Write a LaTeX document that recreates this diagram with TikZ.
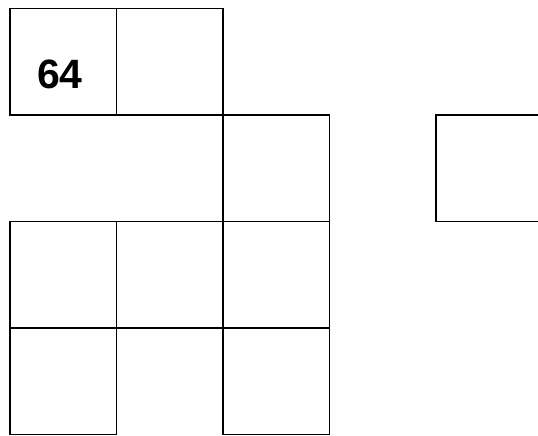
\documentclass[tikz,border=0pt]{standalone}
\usepackage{fontspec}
\setsansfont{Liberation Sans}
\usetikzlibrary{positioning}
\tikzset{
    font=\sffamily,
    % Shapes
    cell/.style={rectangle, draw=black, line width=1.8pt, outer sep=0pt,
                 minimum width=106.5pt, minimum height=106.5pt, inner sep=0pt},
    % Labels
    num/.style={font=\sffamily\bfseries\fontsize{41}{41}\selectfont, inner sep=0pt}
}
\begin{document}
\begin{tikzpicture}[x=1pt, y=-1pt]
\useasboundingbox (0,0) rectangle (538,436);

% top row
\node[cell] (a1) at (63.25,61.75) {};
\node[cell, right=0pt of a1] (a2) {};
% second row
\node[cell, below right=0pt and 0pt of a2] (b3) {};
\node[cell] (side) at (489.25,168.25) {};
% third row
\node[cell, below=0pt of b3] (c3) {};
\node[cell, left=0pt of c3] (c2) {};
\node[cell, left=0pt of c2] (c1) {};
% bottom row
\node[cell, below=0pt of c1] (d1) {};
\node[cell, below=0pt of c3] (d3) {};

\node[num] (lbl) at (60,74) {64};

\end{tikzpicture}
\end{document}
